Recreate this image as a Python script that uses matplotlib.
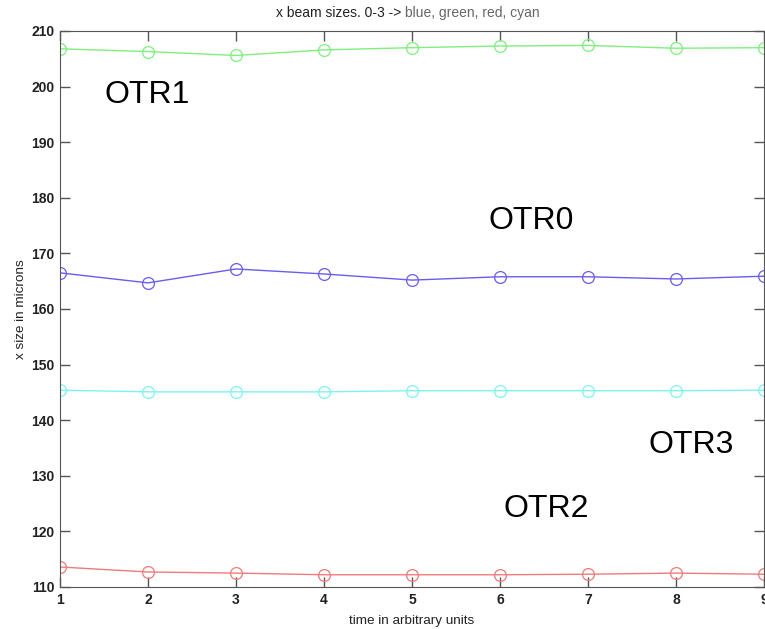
import matplotlib.pyplot as plt

# time steps
t = [1, 2, 3, 4, 5, 6, 7, 8, 9]

# x beam size per screen (microns)
otr0 = [166.5, 164.7, 167.2, 166.3, 165.2, 165.8, 165.8, 165.4, 165.9]
otr1 = [206.8, 206.3, 205.6, 206.6, 207.0, 207.3, 207.4, 206.9, 207.0]
otr2 = [113.6, 112.7, 112.5, 112.2, 112.2, 112.2, 112.3, 112.5, 112.3]
otr3 = [145.4, 145.1, 145.1, 145.1, 145.3, 145.3, 145.3, 145.3, 145.4]

yticks = [110, 120, 130, 140, 150, 160, 170, 180, 190, 200, 210]

plt.rcParams['font.family'] = ['Liberation Sans', 'DejaVu Sans']

fig = plt.figure(figsize=(7.65, 6.29), dpi=100)
ax = fig.add_axes([60 / 765, 1 - 587 / 629, 704 / 765, 556 / 629])

style = dict(marker='o', markersize=8.5, markerfacecolor='none', linewidth=1, markeredgewidth=0.9)
ax.plot(t, otr0, color='#6a5cf0', **style)
ax.plot(t, otr1, color='#7ef07e', **style)
ax.plot(t, otr2, color='#f07a7a', **style)
ax.plot(t, otr3, color='#7ef2f2', **style)

ax.set_xlim(1, 9)
ax.set_ylim(110, 210)
ax.set_xticks(t)
ax.set_yticks(yticks)
ax.tick_params(direction='in', length=7, width=1, color='#555555', labelsize=10,
               labelcolor='#222222', top=True, right=True, pad=4)
for lbl in ax.get_xticklabels() + ax.get_yticklabels():
    lbl.set_fontweight('bold')
for s in ax.spines.values():
    s.set_color('#555555')

ax.set_xlabel('time in arbitrary units', fontsize=9.7, color='#222222', labelpad=6)
ax.set_ylabel('x size in microns', fontsize=9.7, color='#222222', labelpad=3)

# two-tone title
fig.text(0.53, 0.979, 'x beam sizes. 0-3 -> ', ha='right', va='center', fontsize=10, color='#222222')
fig.text(0.53, 0.979, 'blue, green, red, cyan', ha='left', va='center', fontsize=10, color='#666666')

# screen labels
ax.text(1.99, 198.5, 'OTR1', fontsize=23, ha='center', va='center')
ax.text(6.35, 175.9, 'OTR0', fontsize=23, ha='center', va='center')
ax.text(8.17, 135.6, 'OTR3', fontsize=23, ha='center', va='center')
ax.text(6.53, 124.0, 'OTR2', fontsize=23, ha='center', va='center')

fig.savefig('out.png', dpi=100)
